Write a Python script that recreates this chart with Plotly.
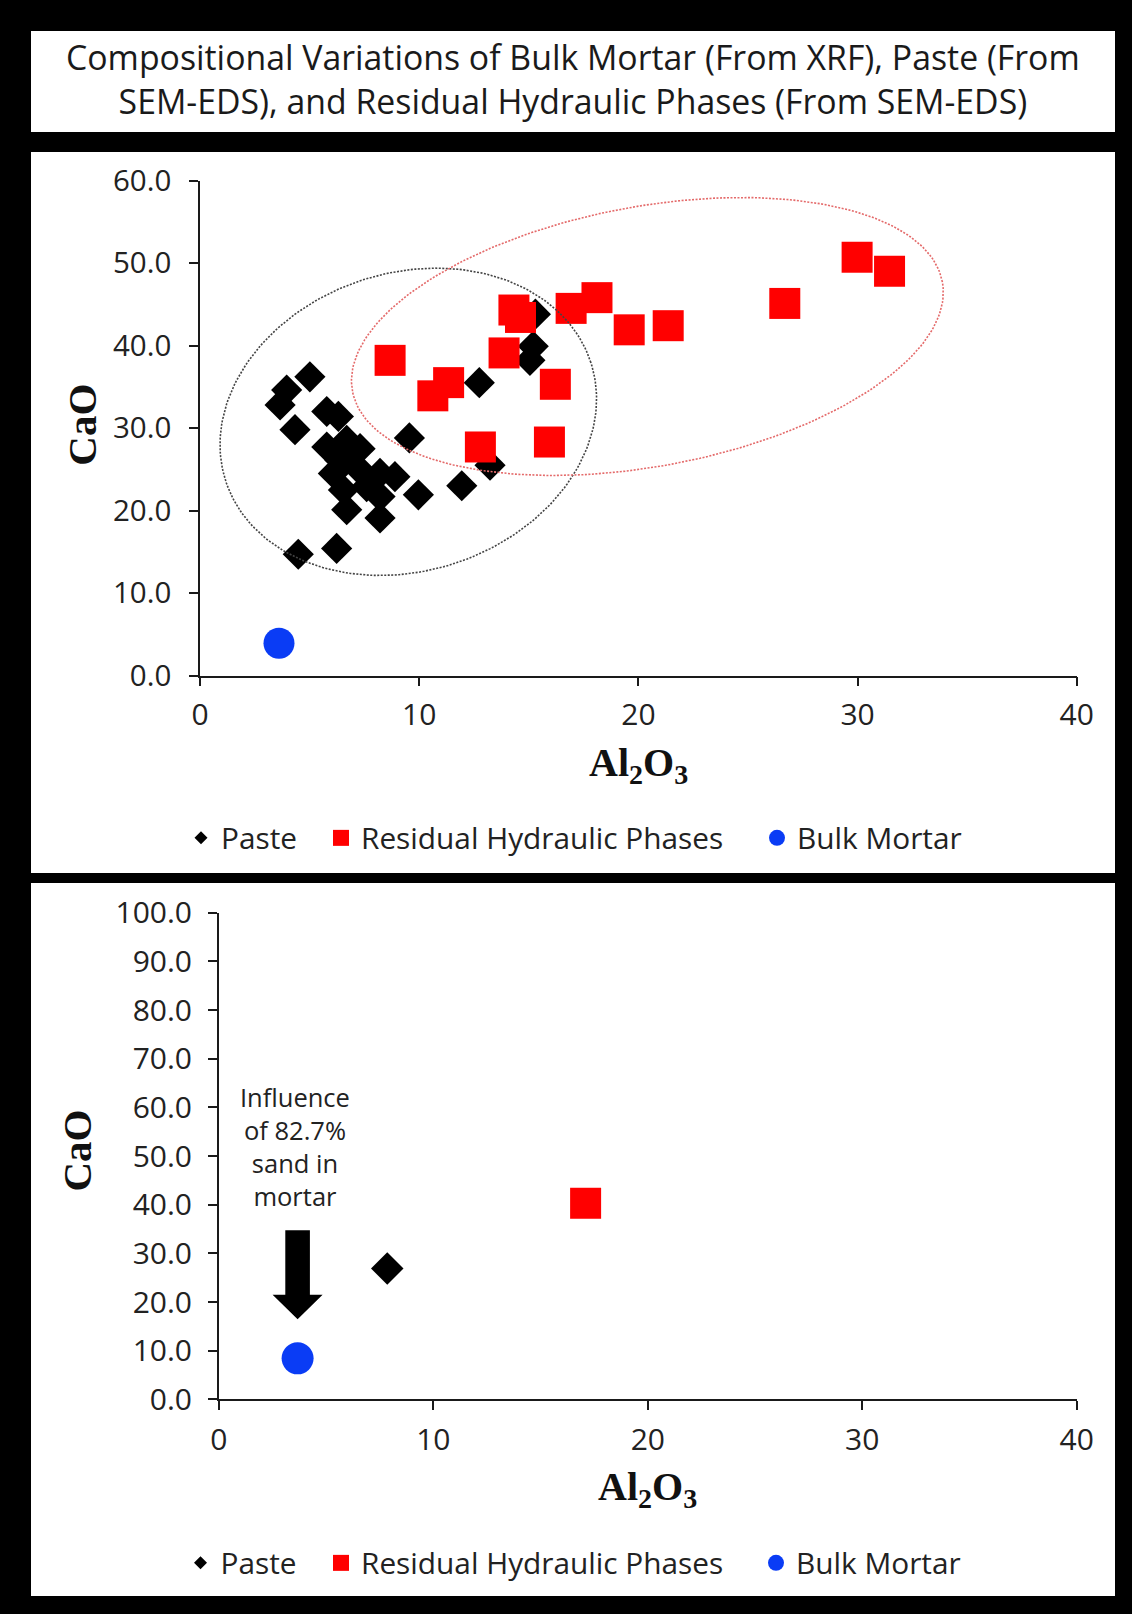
import numpy as np
import plotly.graph_objects as go

W, H = 1132, 1614

# ---------------- data ----------------
# Paste (SEM-EDS) analyses
paste_al2o3 = [5.01, 3.95, 3.65, 4.33,
               5.78, 6.31, 5.78, 6.69, 7.30, 6.38, 6.08, 7.14, 6.54, 6.69,
               8.21, 8.89, 8.21, 8.21, 7.60, 6.90,
               9.96, 11.94, 13.23, 9.55, 12.74, 4.48, 6.23, 15.05, 15.20, 15.30]
paste_cao = [36.2, 34.6, 32.8, 29.8,
             32.0, 31.4, 27.7, 28.5, 27.5, 26.1, 24.5, 25.3, 22.5, 20.1,
             24.5, 24.1, 21.7, 19.1, 22.9, 26.8,
             21.9, 23.0, 25.5, 28.8, 35.5, 14.7, 15.4, 38.2, 39.9, 43.8]

# Residual hydraulic phases (SEM-EDS)
rhp_al2o3 = [8.67, 10.62, 11.34, 12.79, 15.94, 13.87, 14.32, 14.62,
             16.21, 16.93, 18.11, 19.58, 21.36, 26.68, 29.98, 31.46]
rhp_cao = [38.2, 33.9, 35.5, 27.7, 28.3, 39.1, 44.3, 43.4,
           35.3, 44.5, 45.8, 41.9, 42.4, 45.1, 50.7, 49.0]

# Bulk mortar (XRF)
bulk_al2o3 = [3.6]
bulk_cao = [3.9]

# Mean compositions (lower chart)
mean_paste_al2o3 = [7.85]
mean_paste_cao = [26.9]
mean_rhp_al2o3 = [17.1]
mean_rhp_cao = [40.3]
mean_bulk_al2o3 = [3.67]
mean_bulk_cao = [8.44]

series_names = ["Paste", "Residual Hydraulic Phases", "Bulk Mortar"]
x_ticks = [0, 10, 20, 30, 40]
y_ticks_top = [0, 10, 20, 30, 40, 50, 60]
y_ticks_bottom = [0, 10, 20, 30, 40, 50, 60, 70, 80, 90, 100]

title_lines = ["Compositional Variations of Bulk Mortar (From XRF), Paste (From",
               "SEM-EDS), and Residual Hydraulic Phases (From SEM-EDS)"]
note_lines = ["Influence", "of 82.7%", "sand in", "mortar"]

# ---------------- styling ----------------
SANS = "Open Sans"
SERIF = "Liberation Serif"
TXT = "#222222"
AX = "#1a1a1a"
BLACK = "#000000"
RED = "#ff0000"
BLUE = "#0a3cf5"


def px(x):
    return x / W


def py(y):
    return 1 - y / H


fig = go.Figure()

# upper chart: individual analyses
fig.add_trace(go.Scatter(x=paste_al2o3, y=paste_cao, mode="markers", name=series_names[0],
                         marker=dict(symbol="diamond", size=24, color=BLACK, line=dict(width=0)),
                         xaxis="x", yaxis="y", showlegend=False))
fig.add_trace(go.Scatter(x=rhp_al2o3, y=rhp_cao, mode="markers", name=series_names[1],
                         marker=dict(symbol="square", size=31, color=RED, line=dict(width=0)),
                         xaxis="x", yaxis="y", showlegend=False))
fig.add_trace(go.Scatter(x=bulk_al2o3, y=bulk_cao, mode="markers", name=series_names[2],
                         marker=dict(symbol="circle", size=31, color=BLUE, line=dict(width=0)),
                         xaxis="x", yaxis="y", showlegend=False))


# grouping ellipses (center and two conjugate semi-axes, in data units)
def ellipse(center, u, v, n=240):
    t = np.linspace(0, 2 * np.pi, n)
    xs = center[0] + u[0] * np.cos(t) + v[0] * np.sin(t)
    ys = center[1] + u[1] * np.cos(t) + v[1] * np.sin(t)
    return xs, ys


ex, ey = ellipse((9.5, 30.75), (8.33, 7.19), (-2.10, 17.18))
fig.add_trace(go.Scatter(x=ex, y=ey, mode="lines", line=dict(color="#444444", width=1.6, dash="2px,1.5px"),
                         hoverinfo="skip", showlegend=False, xaxis="x", yaxis="y"))
ex, ey = ellipse((20.41, 41.09), (13.46, 6.62), (-1.08, 15.49))
fig.add_trace(go.Scatter(x=ex, y=ey, mode="lines", line=dict(color="#e46a6a", width=1.6, dash="2px,1.5px"),
                         hoverinfo="skip", showlegend=False, xaxis="x", yaxis="y"))

# lower chart: mean compositions
fig.add_trace(go.Scatter(x=mean_paste_al2o3, y=mean_paste_cao, mode="markers", name=series_names[0],
                         marker=dict(symbol="diamond", size=25, color=BLACK, line=dict(width=0)),
                         xaxis="x2", yaxis="y2", showlegend=False))
fig.add_trace(go.Scatter(x=mean_rhp_al2o3, y=mean_rhp_cao, mode="markers", name=series_names[1],
                         marker=dict(symbol="square", size=31, color=RED, line=dict(width=0)),
                         xaxis="x2", yaxis="y2", showlegend=False))
fig.add_trace(go.Scatter(x=mean_bulk_al2o3, y=mean_bulk_cao, mode="markers", name=series_names[2],
                         marker=dict(symbol="circle", size=32, color=BLUE, line=dict(width=0)),
                         xaxis="x2", yaxis="y2", showlegend=False))

# legend entries (one legend per entry so each can be placed on its own)
legend_symbols = [("diamond", 10, BLACK), ("square", 18, RED), ("circle", 16, BLUE)]
legend_x_top = [201.0, 341.0, 777.0]
legend_x_bottom = [200.5, 341.0, 776.0]
legend_y_top = 838.0
legend_y_bottom = 1563.0

legend_layout = {}
k = 1
for panel, xs, yc, xa, ya in [("top", legend_x_top, legend_y_top, "x", "y"),
                              ("bottom", legend_x_bottom, legend_y_bottom, "x2", "y2")]:
    for (sym, size, col), name, xc in zip(legend_symbols, series_names, xs):
        key = "legend" if k == 1 else f"legend{k}"
        fig.add_trace(go.Scatter(x=[None], y=[None], mode="markers", name=name,
                                 marker=dict(symbol=sym, size=size, color=col, line=dict(width=0)),
                                 legend=key, xaxis=xa, yaxis=ya, hoverinfo="skip"))
        legend_layout[key] = dict(x=px(xc - 20), y=py(yc), xanchor="left", yanchor="middle",
                                  bgcolor="rgba(0,0,0,0)", borderwidth=0, orientation="h",
                                  itemwidth=30, font=dict(family=SANS, size=29.8, color=TXT))
        k += 1


def axis(domain, rng, tickvals, fmt, standoff, anchor, fsize):
    return dict(domain=domain, range=rng, tickvals=tickvals, tickformat=fmt,
                showline=True, linecolor=AX, linewidth=1.8, ticks="outside", ticklen=9,
                tickwidth=1.8, tickcolor=AX, showgrid=False, zeroline=False,
                tickfont=dict(family=SANS, size=fsize, color=TXT), ticklabelstandoff=standoff,
                automargin=False, fixedrange=True, anchor=anchor)


# panel geometry in pixels
top_x0, top_x1, top_y0, top_y1 = 200.1, 1076.7, 675.5, 180.5
bot_x0, bot_x1, bot_y0, bot_y1 = 218.9, 1076.7, 1399.4, 912.7

fig.update_layout(
    width=W, height=H,
    margin=dict(l=0, r=0, t=0, b=0),
    paper_bgcolor="black", plot_bgcolor="white",
    xaxis=axis([px(top_x0), px(top_x1)], [0, 40], x_ticks, "d", 3, "y", 30),
    yaxis=axis([py(top_y0), py(top_y1)], [0, 60], y_ticks_top, ".1f", 12, "x", 29.5),
    xaxis2=axis([px(bot_x0), px(bot_x1)], [0, 40], x_ticks, "d", 4, "y2", 30),
    yaxis2=axis([py(bot_y0), py(bot_y1)], [0, 100], y_ticks_bottom, ".1f", 10, "x2", 30),
    **legend_layout,
)

# white panels behind the title and the two charts
for x0, y0, x1, y1 in [(31, 31, 1115, 132), (31, 152, 1115, 873), (31, 883, 1115, 1596)]:
    fig.add_shape(type="rect", xref="paper", yref="paper", x0=px(x0), x1=px(x1), y0=py(y1), y1=py(y0),
                  fillcolor="white", line=dict(width=0), layer="below")

# arrow pointing at the bulk mortar mean, sized in pixels
fig.add_shape(type="path", xref="x2", yref="y2", xsizemode="pixel", ysizemode="pixel",
              xanchor=mean_bulk_al2o3[0], yanchor=16.46,
              path="M 0 0 L -25 24.5 L -12.3 24.5 L -12.3 89 L 12.3 89 L 12.3 24.5 L 25 24.5 Z",
              fillcolor="black", line=dict(width=0), layer="above")

annotations = [
    dict(text="<br>".join(title_lines), x=px(573), y=py(78.5), xref="paper", yref="paper",
         showarrow=False, xanchor="center", yanchor="middle",
         font=dict(family=SANS, size=33.8, color="#1a1a1a")),
    dict(text="<b>CaO</b>", x=px(81.7), y=py(425), xref="paper", yref="paper", textangle=-90,
         showarrow=False, xanchor="center", yanchor="middle",
         font=dict(family=SERIF, size=41, color="#111111")),
    dict(text="<b>CaO</b>", x=px(77.2), y=py(1150.4), xref="paper", yref="paper", textangle=-90,
         showarrow=False, xanchor="center", yanchor="middle",
         font=dict(family=SERIF, size=41, color="#111111")),
    dict(text="<b>Al<sub>2</sub>O<sub>3</sub></b>", x=px(638.4), y=py(765), xref="paper", yref="paper",
         showarrow=False, xanchor="center", yanchor="middle",
         font=dict(family=SERIF, size=40, color="#111111")),
    dict(text="<b>Al<sub>2</sub>O<sub>3</sub></b>", x=px(647.8), y=py(1488.5), xref="paper", yref="paper",
         showarrow=False, xanchor="center", yanchor="middle",
         font=dict(family=SERIF, size=40, color="#111111")),
    dict(text="<br>".join(note_lines), x=3.55, y=52.0, xref="x2", yref="y2",
         showarrow=False, xanchor="center", yanchor="middle",
         font=dict(family=SANS, size=25.5, color=TXT)),
]
fig.update_layout(annotations=annotations)

fig.write_html("out.html")
